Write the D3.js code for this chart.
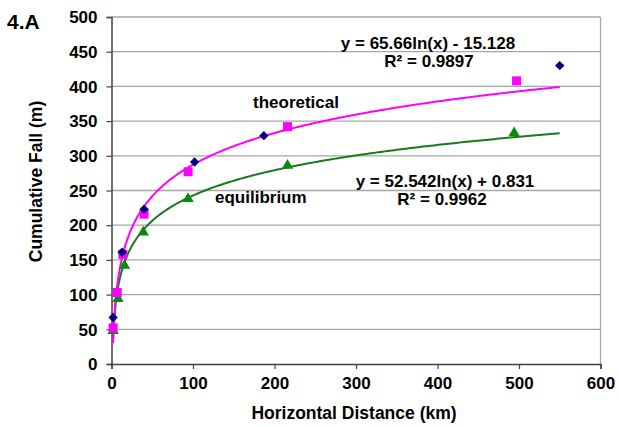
<!DOCTYPE html>
<html>
<head>
<meta charset="utf-8">
<script src="https://cdn.jsdelivr.net/npm/d3@7"></script>
<style>
  body { margin: 0; background: #fff; }
  svg text { font-family: "Liberation Sans", Arial, sans-serif; font-weight: bold; fill: #000; }
</style>
</head>
<body>
<div id="chart"></div>
<script>
const width = 619;
const height = 427;
const margin = { left: 111.5, right: 18.5, top: 17, bottom: 63 };

// data
const theoDist = [2, 7, 14, 40, 94, 216, 497];
const theoFall = [52, 103, 158, 216, 277, 342, 408];
const modelDist = [2, 13, 40, 102, 187, 550];
const modelFall = [67, 161, 223, 291, 329, 430];
const eqDist = [2, 8, 16, 39, 94, 216, 494];
const eqFall = [48, 94, 142, 190, 238, 286, 333];

const xTicks = [0, 100, 200, 300, 400, 500, 600];
const yTicks = [0, 50, 100, 150, 200, 250, 300, 350, 400, 450, 500];

// trendline coefficients (y = a ln(x) + b)
const theoFit = { a: 65.66, b: -15.128, r2: "0.9897" };
const eqFit = { a: 52.542, b: 0.831, r2: "0.9962" };
const fitRange = [2, 550];

const svg = d3.select("#chart").append("svg")
  .attr("width", width)
  .attr("height", height);

const x = d3.scaleLinear().domain([0, 600]).range([margin.left, width - margin.right]);
const y = d3.scaleLinear().domain([0, 500]).range([height - margin.bottom, margin.top]);

// gridlines
svg.append("g")
  .selectAll("line")
  .data(yTicks.slice(1))
  .join("line")
  .attr("x1", x(0)).attr("x2", x(600))
  .attr("y1", (d) => y(d)).attr("y2", (d) => y(d))
  .attr("stroke", "#a6a6a6")
  .attr("stroke-width", 1.3);

// right frame
svg.append("line")
  .attr("x1", x(600)).attr("x2", x(600))
  .attr("y1", y(0)).attr("y2", y(500))
  .attr("stroke", "#a6a6a6").attr("stroke-width", 1.3);

// axes
const xAxis = svg.append("g")
  .attr("transform", `translate(0,${y(0)})`)
  .call(d3.axisBottom(x).tickValues(xTicks).tickSize(5).tickPadding(6));
const yAxis = svg.append("g")
  .attr("transform", `translate(${x(0)},0)`)
  .call(d3.axisLeft(y).tickValues(yTicks).tickSize(5).tickPadding(9));

[xAxis, yAxis].forEach((g) => {
  g.select(".domain").attr("stroke", "#404040").attr("stroke-width", 1.5);
  g.selectAll(".tick line").attr("stroke", "#404040").attr("stroke-width", 1.2);
  g.selectAll(".tick text")
    .attr("font-size", 17)
    .attr("font-family", "Liberation Sans, Arial, sans-serif")
    .attr("font-weight", "bold")
    .attr("fill", "#000");
});
yAxis.selectAll(".tick text").attr("dy", "0.34em");
xAxis.selectAll(".tick text").attr("dy", "0.8em");

// trendlines
const fitLine = (fit) => {
  const pts = d3.range(0, 301).map((i) => {
    const d = fitRange[0] + (fitRange[1] - fitRange[0]) * Math.pow(i / 300, 2);
    return [d, fit.a * Math.log(d) + fit.b];
  });
  return d3.line().x((p) => x(p[0])).y((p) => y(p[1]))(pts);
};

svg.append("path")
  .attr("d", fitLine(eqFit))
  .attr("fill", "none")
  .attr("stroke", "#1a7a1a")
  .attr("stroke-width", 2);

svg.append("path")
  .attr("d", fitLine(theoFit))
  .attr("fill", "none")
  .attr("stroke", "#ff00ff")
  .attr("stroke-width", 2);

// markers
svg.append("g")
  .selectAll("path")
  .data(eqDist.map((d, i) => [d, eqFall[i]]))
  .join("path")
  .attr("transform", (d) => `translate(${x(d[0])},${y(d[1])})`)
  .attr("d", d3.symbol(d3.symbolTriangle, 55)())
  .attr("fill", "#0a8a0a");

svg.append("g")
  .selectAll("rect")
  .data(theoDist.map((d, i) => [d, theoFall[i]]))
  .join("rect")
  .attr("x", (d) => x(d[0]) - 4.5)
  .attr("y", (d) => y(d[1]) - 4.5)
  .attr("width", 9)
  .attr("height", 9)
  .attr("fill", "#ff00ff");

svg.append("g")
  .selectAll("path")
  .data(modelDist.map((d, i) => [d, modelFall[i]]))
  .join("path")
  .attr("transform", (d) => `translate(${x(d[0])},${y(d[1])}) rotate(45)`)
  .attr("d", d3.symbol(d3.symbolSquare, 44)())
  .attr("fill", "#000080");

// labels
const label = (txt, px, py, size, anchor) =>
  svg.append("text")
    .attr("x", px).attr("y", py)
    .attr("font-size", size)
    .attr("text-anchor", anchor || "start")
    .text(txt);

label("4.A", 7, 29, 21);
label(`y = ${theoFit.a}ln(x) - 15.128`, 428, 49, 17, "middle");
label(`R² = ${theoFit.r2}`, 429, 67, 17, "middle");
label("theoretical", 253, 108, 17);
label("equilibrium", 215, 203, 17);
label(`y = ${eqFit.a}ln(x) + ${eqFit.b}`, 445, 187, 17, "middle");
label(`R² = ${eqFit.r2}`, 442, 205, 17, "middle");

label("Horizontal Distance (km)", 354, 419, 17.5, "middle");
svg.append("text")
  .attr("transform", `translate(42,${(y(0) + y(500)) / 2 - 9}) rotate(-90)`)
  .attr("font-size", 17.5)
  .attr("text-anchor", "middle")
  .text("Cumulative Fall (m)");
</script>
</body>
</html>
